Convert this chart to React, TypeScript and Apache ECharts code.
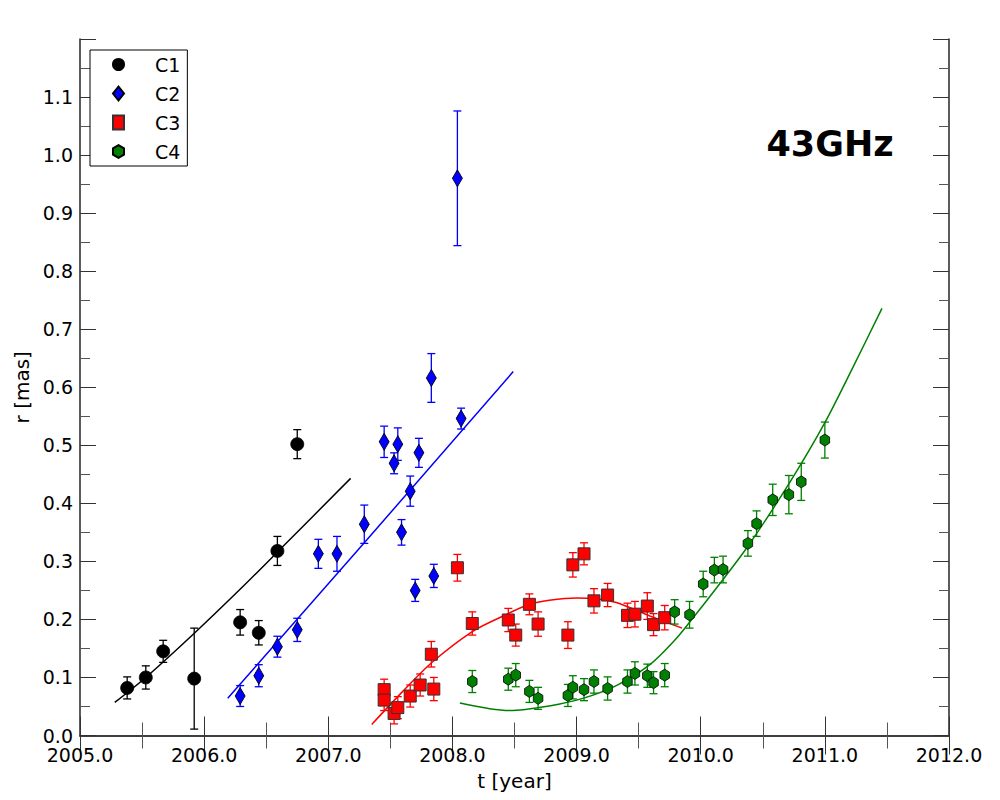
import React, { useEffect, useRef } from "react";
import * as echarts from "echarts";

// ---- data ----
const c1T = [2005.38, 2005.53, 2005.67, 2005.92, 2006.29, 2006.44, 2006.59, 2006.75];
const c1R = [0.082, 0.100, 0.145, 0.098, 0.195, 0.177, 0.318, 0.502];
const c1E = [0.019, 0.020, 0.019, 0.087, 0.022, 0.021, 0.025, 0.025];

const c2T = [2006.29, 2006.44, 2006.59, 2006.75, 2006.92, 2007.07, 2007.29, 2007.45, 2007.53, 2007.56, 2007.59, 2007.66, 2007.70, 2007.73, 2007.83, 2007.85, 2008.04, 2008.07];
const c2R = [0.068, 0.103, 0.153, 0.182, 0.313, 0.313, 0.364, 0.506, 0.469, 0.502, 0.350, 0.421, 0.250, 0.487, 0.616, 0.275, 0.960, 0.546];
const c2E = [0.018, 0.019, 0.018, 0.020, 0.025, 0.030, 0.033, 0.027, 0.018, 0.028, 0.022, 0.026, 0.019, 0.025, 0.042, 0.020, 0.116, 0.018];

const c3T = [2007.45, 2007.45, 2007.53, 2007.56, 2007.66, 2007.74, 2007.83, 2007.85, 2008.04, 2008.16, 2008.45, 2008.51, 2008.62, 2008.69, 2008.93, 2008.97, 2009.06, 2009.14, 2009.25, 2009.41, 2009.47, 2009.57, 2009.62, 2009.71];
const c3R = [0.079, 0.061, 0.038, 0.048, 0.068, 0.087, 0.140, 0.080, 0.289, 0.193, 0.199, 0.173, 0.226, 0.192, 0.173, 0.294, 0.313, 0.232, 0.242, 0.207, 0.209, 0.223, 0.191, 0.203];
const c3E = [0.018, 0.018, 0.018, 0.019, 0.019, 0.019, 0.022, 0.020, 0.023, 0.020, 0.020, 0.019, 0.018, 0.021, 0.023, 0.021, 0.019, 0.021, 0.020, 0.021, 0.022, 0.023, 0.019, 0.021];

const c4T = [2008.16, 2008.45, 2008.51, 2008.62, 2008.69, 2008.93, 2008.97, 2009.06, 2009.14, 2009.25, 2009.41, 2009.47, 2009.57, 2009.62, 2009.71, 2009.79, 2009.91, 2010.02, 2010.11, 2010.18, 2010.38, 2010.45, 2010.58, 2010.71, 2010.81, 2011.00];
const c4R = [0.093, 0.097, 0.104, 0.076, 0.064, 0.069, 0.083, 0.079, 0.093, 0.081, 0.093, 0.107, 0.103, 0.091, 0.104, 0.213, 0.208, 0.261, 0.285, 0.286, 0.331, 0.365, 0.406, 0.415, 0.437, 0.509];
const c4E = [0.019, 0.019, 0.020, 0.019, 0.019, 0.019, 0.020, 0.019, 0.020, 0.020, 0.020, 0.020, 0.020, 0.019, 0.020, 0.021, 0.023, 0.022, 0.022, 0.023, 0.022, 0.022, 0.027, 0.033, 0.032, 0.031];

// fitted curves
const fit1T = [2005.28, 2005.53, 2005.91, 2006.30, 2006.59, 2007.18];
const fit1R = [0.057, 0.100, 0.174, 0.254, 0.316, 0.443];
const fit2T = [2006.19, 2007.29, 2008.49];
const fit2R = [0.064, 0.332, 0.627];
const fit3T = [2007.35, 2007.60, 2007.83, 2008.16, 2008.40, 2008.62, 2008.78, 2009.00, 2009.14, 2009.32, 2009.59, 2009.85];
const fit3R = [0.019, 0.076, 0.125, 0.179, 0.205, 0.226, 0.233, 0.237, 0.236, 0.229, 0.206, 0.185];
const fit4T = [2008.06, 2008.46, 2008.78, 2009.05, 2009.32, 2009.59, 2009.79, 2009.91, 2010.13, 2010.38, 2010.72, 2011.00, 2011.23, 2011.46];
const fit4R = [0.056, 0.043, 0.051, 0.064, 0.086, 0.122, 0.164, 0.195, 0.255, 0.326, 0.437, 0.539, 0.636, 0.736];

const xTicksMin = 2005;
const xTicksMax = 2012;
const yMin = 0;
const yMax = 1.2;

const FONT = "DejaVu Sans";
const HEX = "path://M0,-10L8.66,-5L8.66,5L0,10L-8.66,5L-8.66,-5Z";

const zip = (t: number[], r: number[]) => t.map((v, i) => [v, r[i]]);
const zip3 = (t: number[], r: number[], e: number[]) => t.map((v, i) => [v, r[i], e[i]]);

function errorSeries(name: string, t: number[], r: number[], e: number[], color: string) {
  return {
    type: "custom",
    name: name + "-err",
    z: 2,
    data: zip3(t, r, e),
    encode: { x: 0, y: 1 },
    silent: true,
    renderItem: (params: any, api: any) => {
      const x = api.value(0);
      const y = api.value(1);
      const er = api.value(2);
      const top = api.coord([x, y + er]);
      const bot = api.coord([x, y - er]);
      const hw = 4;
      const st = { stroke: color, lineWidth: 1.3 };
      return {
        type: "group",
        children: [
          { type: "line", shape: { x1: top[0], y1: top[1], x2: bot[0], y2: bot[1] }, style: st },
          { type: "line", shape: { x1: top[0] - hw, y1: top[1], x2: top[0] + hw, y2: top[1] }, style: st },
          { type: "line", shape: { x1: bot[0] - hw, y1: bot[1], x2: bot[0] + hw, y2: bot[1] }, style: st },
        ],
      };
    },
  };
}

function fitSeries(name: string, t: number[], r: number[], color: string, smooth: any) {
  return {
    type: "line",
    name,
    z: 1,
    data: zip(t, r),
    showSymbol: false,
    smooth,
    silent: true,
    lineStyle: { color, width: 1.5 },
  };
}

export default function App() {
  const ref = useRef<HTMLDivElement>(null);
  useEffect(() => {
    document.body.style.margin = "0";
    const chart = echarts.init(ref.current!, null, { renderer: "svg" });
    const axisLine = { show: true, lineStyle: { color: "#333", width: 1.6 } };
    const xCommon = {
      type: "value",
      min: xTicksMin,
      max: xTicksMax,
      interval: 1,
      splitLine: { show: false },
      axisLine,
      axisTick: { show: true, inside: true, length: 19, lineStyle: { color: "#333", width: 1 } },
      minorTick: { show: true, splitNumber: 2, length: 13, lineStyle: { color: "#555", width: 1 } },
    };
    const yCommon = {
      type: "value",
      min: yMin,
      max: yMax,
      interval: 0.1,
      splitLine: { show: false },
      axisLine,
      axisTick: { show: true, inside: true, length: 16, lineStyle: { color: "#333", width: 1 } },
      minorTick: { show: true, splitNumber: 2, length: 10, lineStyle: { color: "#555", width: 1 } },
    };
    const option: any = {
      animation: false,
      backgroundColor: "#fff",
      textStyle: { fontFamily: FONT },
      grid: { left: 80, right: 51, top: 39, bottom: 64.5, containLabel: false },
      xAxis: [
        {
          ...xCommon,
          position: "bottom",
          name: "t [year]",
          nameLocation: "middle",
          nameGap: 35,
          nameTextStyle: { fontSize: 20, color: "#000", fontFamily: FONT },
          axisLabel: { show: true, fontSize: 19, color: "#000", fontFamily: FONT, margin: 10, formatter: (v: number) => v.toFixed(1) },
        },
        { ...xCommon, position: "top", axisLabel: { show: false } },
      ],
      yAxis: [
        {
          ...yCommon,
          position: "left",
          name: "r [mas]",
          nameLocation: "middle",
          nameRotate: 90,
          nameGap: 44,
          nameTextStyle: { fontSize: 20, color: "#000", fontFamily: FONT },
          axisLabel: {
            show: true,
            fontSize: 19,
            color: "#000",
            fontFamily: FONT,
            margin: 7,
            formatter: (v: number) => (v > 1.15 ? "" : v.toFixed(1)),
          },
        },
        { ...yCommon, position: "right", axisLabel: { show: false } },
      ],
      legend: {
        show: true,
        orient: "vertical",
        left: 90,
        top: 50,
        data: ["C1", "C2", "C3", "C4"],
        backgroundColor: "#fff",
        borderColor: "#000",
        borderWidth: 1,
        borderRadius: 0,
        padding: [5, 7, 5, 22],
        itemWidth: 11,
        itemHeight: 14,
        itemGap: 10,
        textStyle: { fontSize: 19, color: "#000", fontFamily: FONT, lineHeight: 19, padding: [0, 0, 0, 26] },
      },
      graphic: [
        {
          type: "text",
          x: 830,
          y: 144,
          style: { text: "43GHz", fontSize: 35, fontWeight: "bold", fontFamily: FONT, fill: "#000", align: "center", verticalAlign: "middle" },
          z: 10,
        },
      ],
      series: [
        fitSeries("fit1", fit1T, fit1R, "#000000", 0.25),
        fitSeries("fit2", fit2T, fit2R, "#0000ff", false),
        fitSeries("fit3", fit3T, fit3R, "#ff0000", 0.3),
        fitSeries("fit4", fit4T, fit4R, "#008000", 0.3),
        errorSeries("C1", c1T, c1R, c1E, "#000000"),
        errorSeries("C2", c2T, c2R, c2E, "#0000ff"),
        errorSeries("C3", c3T, c3R, c3E, "#ff0000"),
        errorSeries("C4", c4T, c4R, c4E, "#008000"),
        {
          type: "scatter", name: "C1", z: 3, data: zip(c1T, c1R), symbol: "circle", symbolSize: 13,
          itemStyle: { color: "#000000", borderColor: "#000", borderWidth: 0.8, opacity: 1 },
        },
        {
          type: "scatter", name: "C2", z: 3, data: zip(c2T, c2R), symbol: "diamond", symbolSize: [10, 17],
          itemStyle: { color: "#0000ff", borderColor: "#000", borderWidth: 0.8, opacity: 1 },
        },
        {
          type: "scatter", name: "C3", z: 3, data: zip(c3T, c3R), symbol: "rect", symbolSize: 12, symbolKeepAspect: true,
          itemStyle: { color: "#ff0000", borderColor: "#333", borderWidth: 1, opacity: 1 },
        },
        {
          type: "scatter", name: "C4", z: 3, data: zip(c4T, c4R), symbol: HEX, symbolSize: [11, 12], symbolKeepAspect: true,
          itemStyle: { color: "#008000", borderColor: "#000", borderWidth: 0.8, opacity: 1 },
        },
      ],
    };
    chart.setOption(option);
    return () => chart.dispose();
  }, []);
  return <div ref={ref} style={{ width: 1000, height: 800 }} />;
}
